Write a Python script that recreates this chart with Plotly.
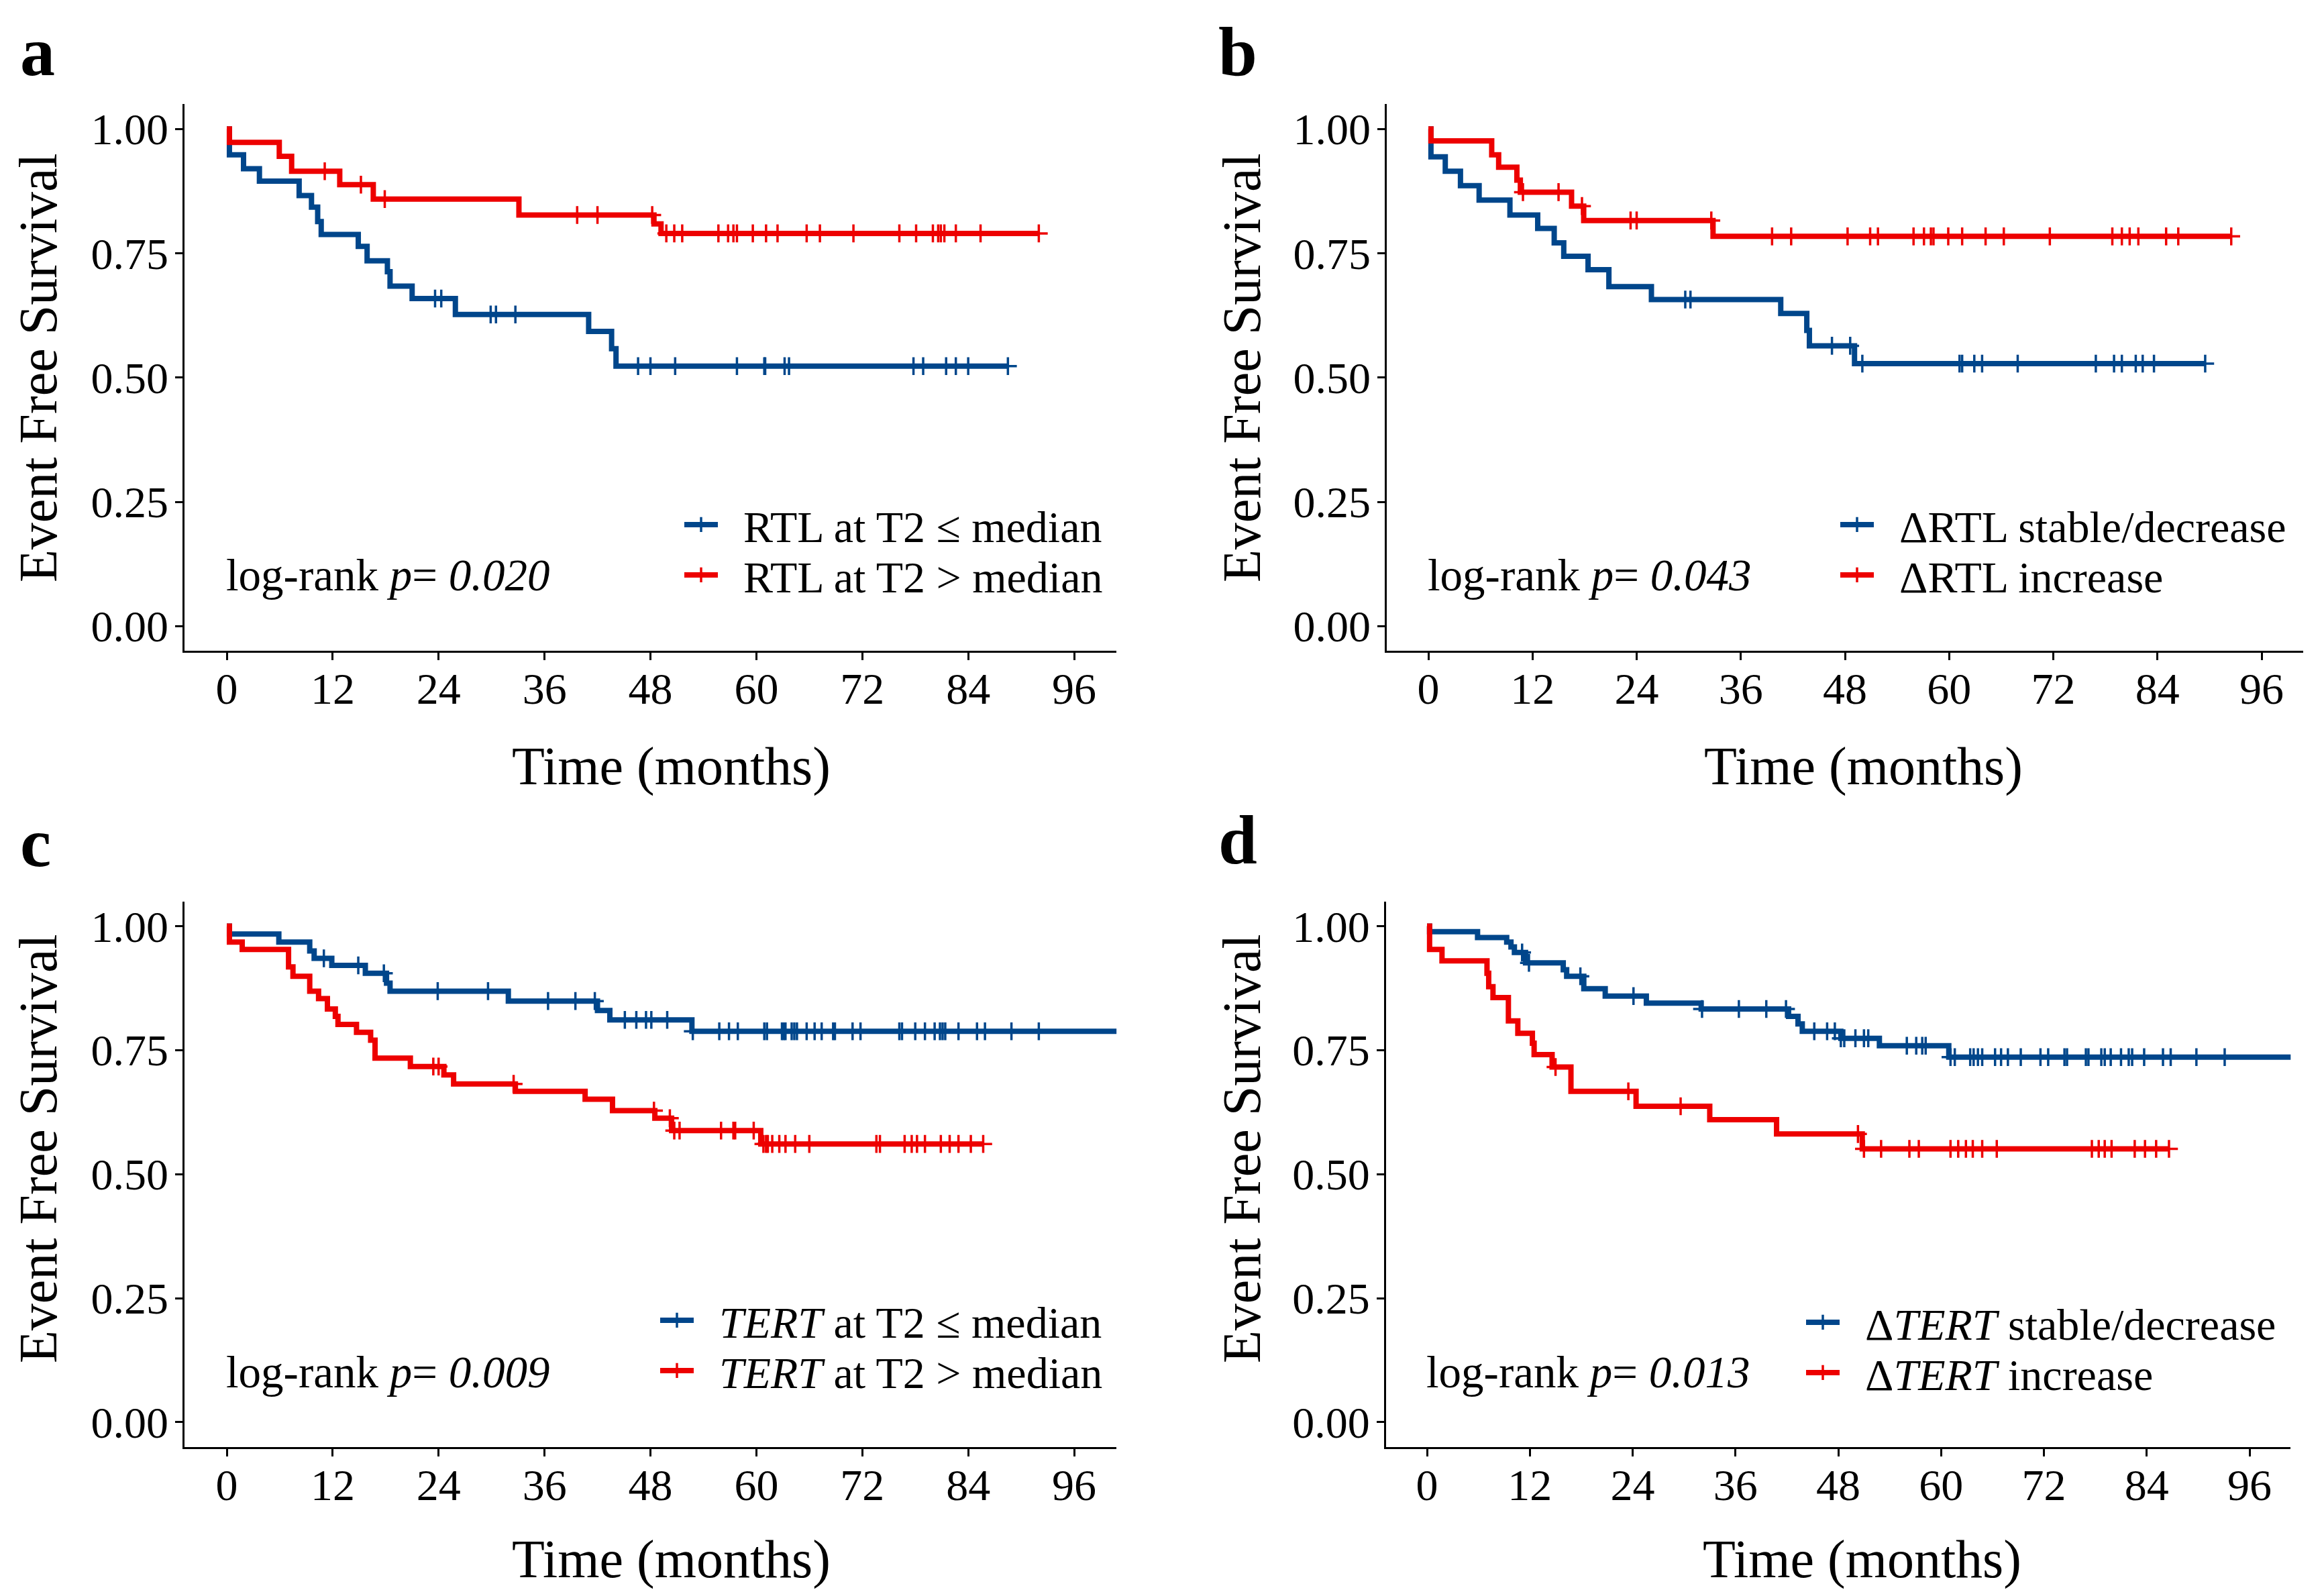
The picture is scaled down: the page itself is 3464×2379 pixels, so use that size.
import plotly.graph_objects as go

# ---------------- data ----------------
months_ticks = [0, 12, 24, 36, 48, 60, 72, 84, 96]
surv_ticks = [0.00, 0.25, 0.50, 0.75, 1.00]

# Panel a
a_low_t = [0.3, 1.9, 3.7, 8.2, 9.6, 10.3, 10.7, 14.9, 15.9, 18.2, 18.5, 21.0, 25.9, 41.0, 43.6, 44.1]
a_low_s = [0.948, 0.920, 0.895, 0.866, 0.843, 0.814, 0.788, 0.764, 0.735, 0.713, 0.684, 0.659, 0.627, 0.593, 0.558, 0.523]
a_low_cens = [23.6, 24.3, 29.9, 30.5, 32.7, 46.6, 48.0, 50.8, 57.8, 60.9, 61.0, 63.2, 63.7, 77.8, 78.9, 81.5, 82.6, 84.0, 88.5]
a_low_end = 88.5
a_high_t = [0.3, 5.95, 7.35, 12.8, 16.6, 33.1, 48.4, 49.2]
a_high_s = [0.973, 0.945, 0.915, 0.888, 0.859, 0.827, 0.809, 0.790]
a_high_cens = [11.1, 15.2, 17.9, 39.7, 42.0, 48.2, 49.8, 50.7, 51.6, 55.7, 56.8, 57.4, 57.8, 59.6, 61.1, 62.4,
               65.7, 67.2, 71.0, 76.2, 78.1, 80.0, 80.6, 80.9, 81.3, 82.6, 85.4, 92.0]
a_high_end = 92.0

# Panel b
b_low_t = [0.3, 1.95, 3.7, 5.85, 9.4, 12.6, 14.5, 15.6, 18.4, 20.8, 25.7, 40.6, 43.6, 43.9, 49.1]
b_low_s = [0.944, 0.915, 0.886, 0.857, 0.827, 0.800, 0.771, 0.744, 0.717, 0.683, 0.657, 0.629, 0.595, 0.564, 0.528]
b_low_cens = [29.6, 30.2, 46.5, 48.6, 50.0, 61.2, 61.5, 62.9, 63.8, 67.9, 76.9, 79.0, 79.9, 81.5, 82.3, 83.6, 89.5]
b_low_end = 89.5
b_high_t = [0.3, 7.3, 8.1, 10.2, 10.6, 16.5, 17.9, 32.8]
b_high_s = [0.976, 0.948, 0.923, 0.897, 0.873, 0.845, 0.816, 0.784]
b_high_cens = [10.9, 15.0, 17.7, 23.3, 24.0, 32.6, 39.6, 41.8, 48.3, 50.9, 51.8, 55.9, 57.1, 57.9, 58.2, 59.9,
               61.5, 64.2, 66.3, 71.6, 78.8, 79.9, 80.8, 81.8, 85.0, 86.4, 92.5]
b_high_end = 92.5

# Panel c
c_low_t = [0.3, 5.9, 9.4, 9.9, 11.9, 15.7, 18.1, 18.5, 31.9, 42.0, 43.4, 52.7]
c_low_s = [0.984, 0.968, 0.950, 0.935, 0.921, 0.905, 0.885, 0.869, 0.849, 0.830, 0.811, 0.788]
c_low_cens = [11.0, 14.9, 17.8, 23.9, 29.6, 36.4, 39.5, 41.7, 45.1, 46.4, 47.5, 48.1, 49.9, 52.8, 55.8, 56.9,
              57.9, 60.9, 61.2, 62.9, 63.1, 63.3, 64.0, 64.3, 64.6, 65.7, 66.6, 67.4, 68.7, 68.9, 70.9, 71.8,
              76.2, 76.5, 78.0, 79.1, 80.2, 80.8, 81.1, 81.4, 82.9, 85.0, 85.9, 88.9, 92.0]
c_low_end = 102.0
c_high_t = [0.3, 1.75, 7.0, 7.5, 9.4, 10.4, 11.4, 12.3, 12.6, 14.7, 16.3, 16.8, 20.8, 24.6, 25.7, 32.7, 40.6,
            43.7, 48.5, 50.4, 60.5]
c_high_s = [0.968, 0.953, 0.918, 0.899, 0.869, 0.854, 0.833, 0.818, 0.802, 0.786, 0.770, 0.734, 0.717, 0.700,
            0.682, 0.667, 0.651, 0.628, 0.613, 0.588, 0.561]
c_high_cens = [23.4, 24.0, 32.5, 48.4, 50.2, 50.7, 51.3, 56.0, 57.4, 57.6, 59.7, 60.8, 61.1, 61.3, 61.8, 62.6,
               63.3, 64.4, 66.0, 73.6, 74.0, 76.8, 77.6, 78.2, 79.1, 80.9, 81.9, 82.9, 84.3, 85.7]
c_high_end = 85.7

# Panel d
d_low_t = [0.3, 5.9, 9.3, 9.8, 10.2, 11.5, 15.9, 16.3, 18.3, 20.8, 25.6, 32.0, 42.2, 43.3, 43.8, 48.3, 52.8, 60.9]
d_low_s = [0.989, 0.977, 0.968, 0.958, 0.947, 0.926, 0.912, 0.899, 0.874, 0.859, 0.845, 0.833, 0.818, 0.803,
           0.788, 0.774, 0.759, 0.736]
d_low_cens = [11.1, 11.9, 17.9, 24.1, 32.1, 36.4, 39.6, 41.9, 45.2, 46.7, 47.6, 48.3, 48.7, 50.0, 51.0, 51.5,
              56.0, 57.1, 57.8, 58.2, 61.1, 61.6, 63.4, 63.8, 64.3, 64.8, 66.3, 67.0, 67.8, 69.3, 71.6, 72.5,
              74.4, 74.7, 76.9, 77.2, 78.7, 79.1, 79.8, 81.0, 81.9, 82.3, 83.7, 85.9, 86.8, 89.8, 93.1]
d_low_end = 102.0
d_high_t = [0.3, 1.75, 7.0, 7.2, 7.7, 9.5, 10.6, 12.3, 12.5, 14.6, 16.8, 24.4, 33.0, 40.8, 50.8]
d_high_s = [0.953, 0.930, 0.905, 0.878, 0.856, 0.809, 0.784, 0.764, 0.741, 0.716, 0.667, 0.637, 0.610, 0.581, 0.551]
d_high_cens = [15.0, 23.5, 29.6, 50.3, 51.0, 53.0, 56.3, 57.4, 61.1, 62.0, 62.9, 63.7, 64.8, 66.5, 77.6, 78.4,
               79.1, 79.9, 82.6, 83.8, 85.1, 86.6]
d_high_end = 86.6

panel_letters = ["a", "b", "c", "d"]
p_values = ["0.020", "0.043", "0.009", "0.013"]
legend_labels = [
    ["RTL at T2 ≤ median", "RTL at T2 > median"],
    ["ΔRTL stable/decrease", "ΔRTL increase"],
    ["<i>TERT</i> at T2 ≤ median", "<i>TERT</i> at T2 > median"],
    ["Δ<i>TERT</i> stable/decrease", "Δ<i>TERT</i> increase"],
]

# ---------------- styling / layout (pixel positions in the 3464x2379 page) ----------------
BLUE = "#00468B"
RED = "#ED0000"
FONT = "Liberation Serif"
PAGE_W, PAGE_H = 3464, 2379
BODY = 8                      # default body margin of the html page
W, H = PAGE_W - 2 * BODY, PAGE_H - 2 * BODY


def fx(px):
    return (px - BODY) / W


def fy(py):
    return 1 - (py - BODY) / H


# panel geometry: pixel x of month 0 and 96, pixel y of survival 1 and 0
geom = [
    dict(x0=338, x96=1601, y1=192.3, y0=933.3),
    dict(x0=2129, x96=3371, y1=192.3, y0=933.3),
    dict(x0=338, x96=1601, y1=1380.5, y0=2120.0),
    dict(x0=2127, x96=3353, y1=1380.5, y0=2120.0),
]
XR = [-4.8, 100.8]
YR = [-0.05, 1.05]

curves = [
    ((a_low_t, a_low_s, a_low_cens, a_low_end), (a_high_t, a_high_s, a_high_cens, a_high_end)),
    ((b_low_t, b_low_s, b_low_cens, b_low_end), (b_high_t, b_high_s, b_high_cens, b_high_end)),
    ((c_low_t, c_low_s, c_low_cens, c_low_end), (c_high_t, c_high_s, c_high_cens, c_high_end)),
    ((d_low_t, d_low_s, d_low_cens, d_low_end), (d_high_t, d_high_s, d_high_cens, d_high_end)),
]

letter_px = [(28, 77), (1814, 77), (28, 1255), (1814, 1251)]
ytitle_px = [(57, 548), (1851, 548), (57, 1712), (1851, 1712)]
xtitle_px = [(1000, 1142), (2777, 1142), (1000, 2324), (2775, 2324)]
legend_key_x = [1023, 2746, 987, 2695]
legend_rows_y = [(782, 857), (782, 857), (1968, 2043), (1971, 2046)]
logrank_y = [0.103, 0.103, 0.101, 0.101]


def km_line(t, s, end):
    return [0.0] + list(t) + [end], [1.0] + list(s) + [s[-1]]


def surv_at(t, s, tc):
    val = 1.0
    for ti, si in zip(t, s):
        if ti <= tc:
            val = si
    return val


fig = go.Figure()
layout = dict(width=W, height=H, margin=dict(l=0, r=0, t=0, b=0),
              paper_bgcolor="white", plot_bgcolor="white", showlegend=True,
              font=dict(family=FONT, color="black"))
annotations = []
LW = 8
GAP = "\u00a0\u00a0"

leg_n = 0
for i, g in enumerate(geom):
    k = "" if i == 0 else str(i + 1)
    xa, ya = "x" + k, "y" + k
    ppm = (g["x96"] - g["x0"]) / 96.0
    ppu = g["y0"] - g["y1"]
    xd = [fx(g["x0"] + XR[0] * ppm), fx(g["x0"] + XR[1] * ppm)]
    yd = [fy(g["y0"] - YR[0] * ppu), fy(g["y0"] - YR[1] * ppu)]
    for j, (cv, color) in enumerate(zip(curves[i], (BLUE, RED))):
        t, s, cens, end = cv
        lx, ly = km_line(t, s, end)
        fig.add_trace(go.Scatter(x=lx, y=ly, mode="lines", line=dict(color=color, width=LW, shape="hv"),
                                 xaxis=xa, yaxis=ya, showlegend=False, hoverinfo="skip"))
        fig.add_trace(go.Scatter(x=cens, y=[surv_at(t, s, c) for c in cens], mode="markers",
                                 marker=dict(symbol="cross-thin-open", size=19, color=color,
                                             line=dict(color=color, width=3.5)),
                                 xaxis=xa, yaxis=ya, showlegend=False, hoverinfo="skip", cliponaxis=True))
        leg_n += 1
        leg = "legend" if leg_n == 1 else "legend%d" % leg_n
        fig.add_trace(go.Scatter(x=[None], y=[None], mode="lines+markers", name=GAP + legend_labels[i][j],
                                 line=dict(color=color, width=LW),
                                 marker=dict(symbol="cross-thin-open", size=19, color=color,
                                             line=dict(color=color, width=3.5)),
                                 xaxis=xa, yaxis=ya, legend=leg, showlegend=True))
        layout[leg] = dict(x=fx(legend_key_x[i] - 8), y=fy(legend_rows_y[i][j]), xanchor="left",
                           yanchor="middle", xref="paper", yref="paper", bgcolor="rgba(0,0,0,0)",
                           borderwidth=0, font=dict(family=FONT, size=66, color="black"), itemwidth=50)
    axis_common = dict(showline=True, linecolor="black", linewidth=2.5, ticks="outside", ticklen=11,
                       tickwidth=2.5, tickcolor="black", showgrid=False, zeroline=False,
                       tickfont=dict(family=FONT, size=66, color="black"))
    layout["xaxis" + k] = dict(axis_common, domain=xd, anchor=ya, range=XR, ticklabelstandoff=-14,
                               tickvals=months_ticks, ticktext=[str(v) for v in months_ticks])
    layout["yaxis" + k] = dict(axis_common, domain=yd, anchor=xa, range=YR, ticklabelstandoff=-3,
                               tickvals=surv_ticks, ticktext=["%.2f" % v for v in surv_ticks])
    annotations.append(dict(text="<b>%s</b>" % panel_letters[i], x=fx(letter_px[i][0]), y=fy(letter_px[i][1]),
                            xref="paper", yref="paper", xanchor="left", yanchor="middle", showarrow=False,
                            font=dict(family=FONT, size=104, color="black")))
    annotations.append(dict(text="Event Free Survival", x=fx(ytitle_px[i][0]), y=fy(ytitle_px[i][1]),
                            xref="paper", yref="paper", xanchor="center", yanchor="middle", textangle=-90,
                            showarrow=False, font=dict(family=FONT, size=80, color="black")))
    annotations.append(dict(text="Time (months)", x=fx(xtitle_px[i][0]), y=fy(xtitle_px[i][1]),
                            xref="paper", yref="paper", xanchor="center", yanchor="middle",
                            showarrow=False, font=dict(family=FONT, size=80, color="black")))
    annotations.append(dict(text="log-rank <i>p</i>= <i>%s</i>" % p_values[i], x=-0.2, y=logrank_y[i],
                            xref=xa, yref=ya, xanchor="left", yanchor="middle", showarrow=False,
                            font=dict(family=FONT, size=67, color="black")))

layout["annotations"] = annotations
fig.update_layout(**layout)
fig.write_html("out.html")
